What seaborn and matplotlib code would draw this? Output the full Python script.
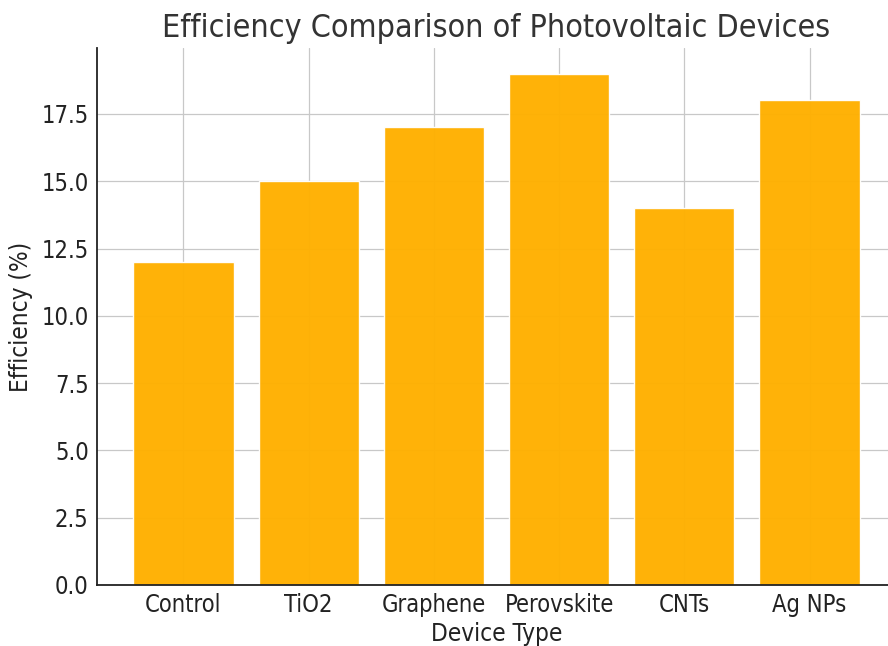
import matplotlib
matplotlib.use("Agg")
import matplotlib.pyplot as plt
import seaborn as sns
import pandas as pd

devices = ["Control", "TiO2", "Graphene", "Perovskite", "CNTs", "Ag NPs"]
efficiency = [12, 15, 17, 19, 14, 18]

sns.set_theme(style="whitegrid")
plt.rcParams["font.family"] = ["DejaVu Sans"]
plt.rcParams["font.stretch"] = "condensed"

df = pd.DataFrame({"Device Type": devices, "Efficiency (%)": efficiency})

fig = plt.figure(figsize=(8.88, 6.46), dpi=100)
ax = fig.add_axes([97 / 888, 61 / 646, 799 / 888, 537 / 646])

sns.barplot(data=df, x="Device Type", y="Efficiency (%)", color="#ffb000",
            saturation=1, width=0.8, ax=ax, zorder=2, alpha=0.97)

ax.set_xlim(-0.69, 5.69)
ax.set_ylim(0, 19.95)
yticks = [0, 2.5, 5, 7.5, 10, 12.5, 15, 17.5]
ax.set_yticks(yticks)
ax.set_yticklabels([f"{v:.1f}" for v in yticks])

ax.grid(True, color="#c8c8c8", linewidth=0.9, zorder=0)
ax.set_axisbelow(True)
for side in ["top", "right"]:
    ax.spines[side].set_visible(False)
for side in ["left", "bottom"]:
    ax.spines[side].set_color("#222222")
    ax.spines[side].set_linewidth(1.3)

ax.tick_params(axis="both", direction="in", length=4, width=1, color="#222222",
               labelsize=17, labelcolor="#222222", pad=6)
ax.set_xlabel("Device Type", fontsize=17.5, color="#222222", labelpad=3)
ax.set_ylabel("Efficiency (%)", fontsize=17.5, color="#222222", labelpad=6)
ax.set_title("Efficiency Comparison of Photovoltaic Devices", fontsize=23,
             color="#333333", pad=8)

fig.savefig("out.png", dpi=100)
